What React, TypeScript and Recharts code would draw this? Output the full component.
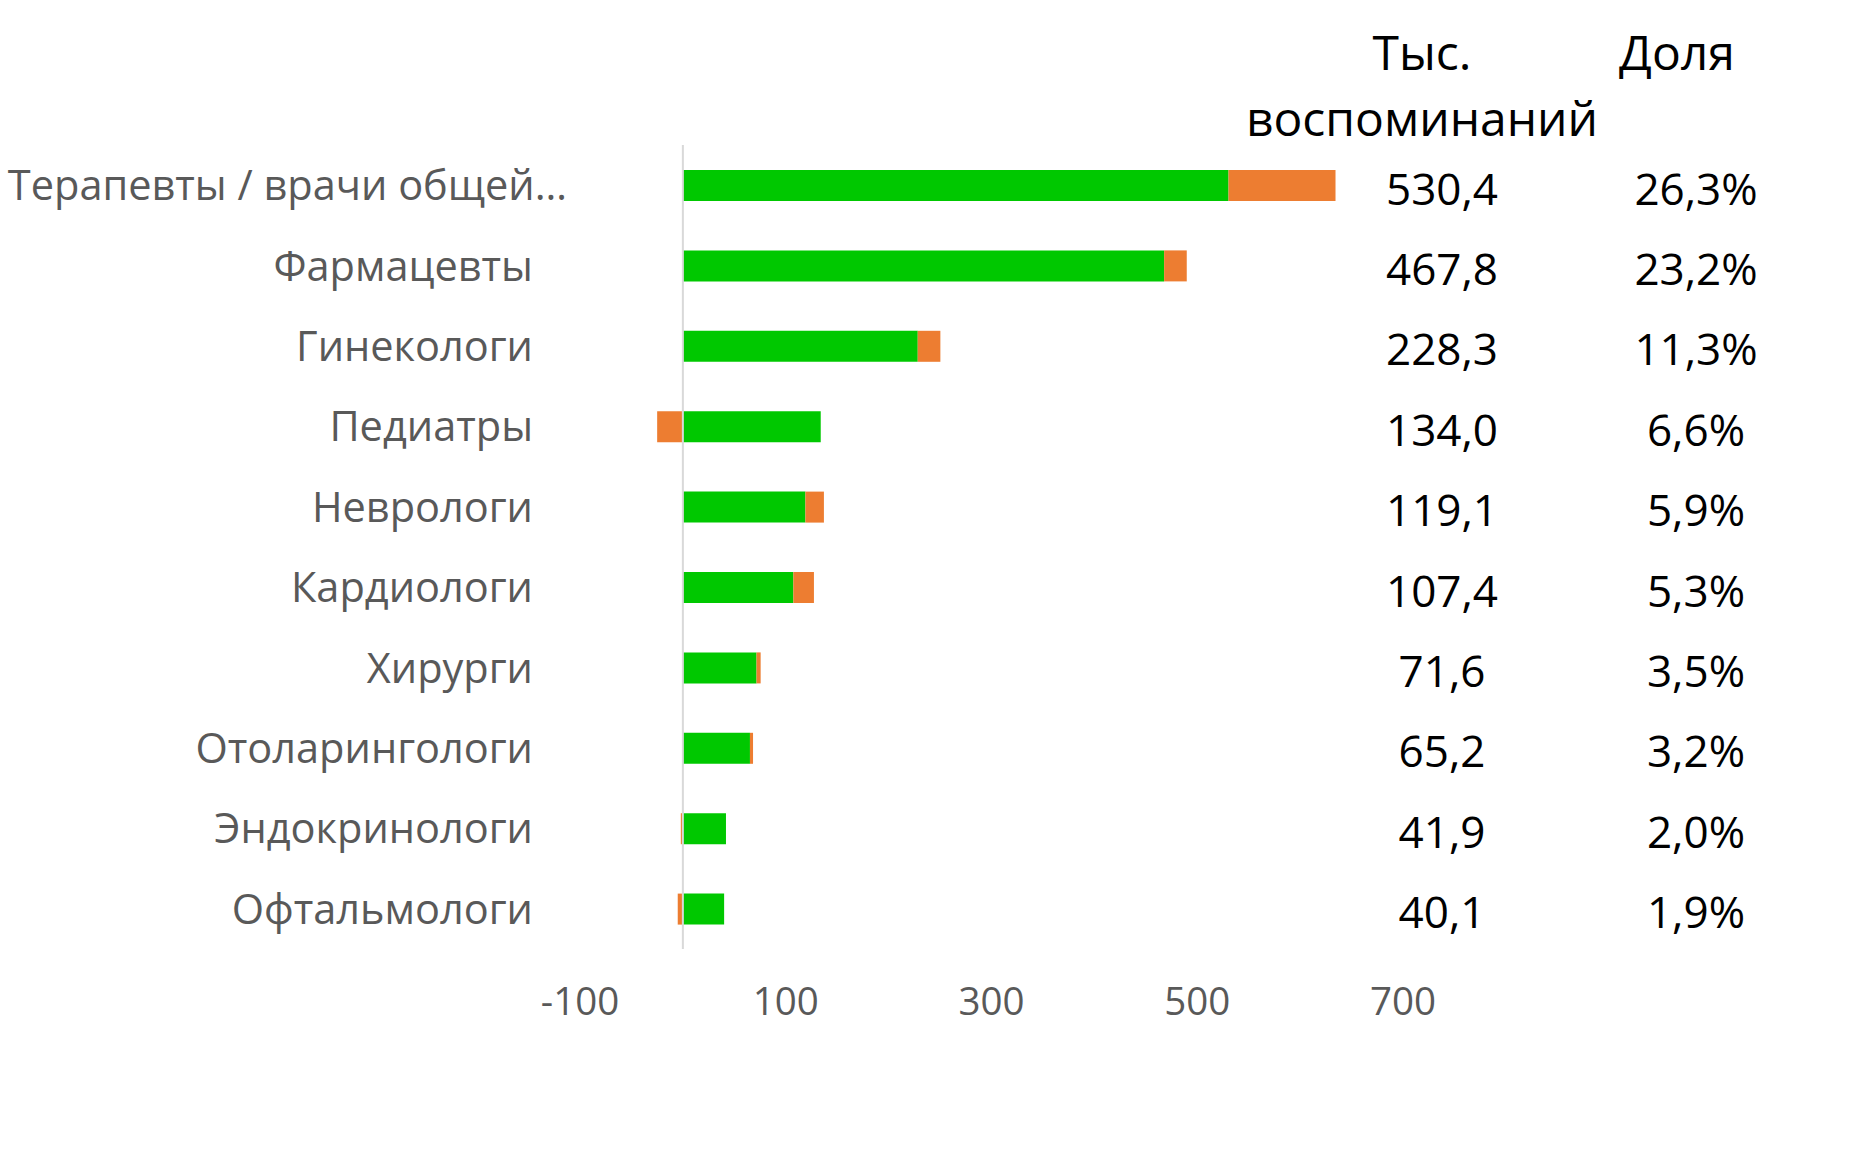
import React from 'react';
import { BarChart, Bar, XAxis, YAxis, ReferenceLine, LabelList } from 'recharts';

const categories = [
  'Терапевты / врачи общей…',
  'Фармацевты',
  'Гинекологи',
  'Педиатры',
  'Неврологи',
  'Кардиологи',
  'Хирурги',
  'Отоларингологи',
  'Эндокринологи',
  'Офтальмологи',
];

// thousand mentions (green) and change (orange)
const mentions = [530.4, 467.8, 228.3, 134.0, 119.1, 107.4, 71.6, 65.2, 41.9, 40.1];
const change = [104, 22, 22, -25, 18, 20, 4, 3, -2, -5];
const shares = [26.3, 23.2, 11.3, 6.6, 5.9, 5.3, 3.5, 3.2, 2.0, 1.9];

const xTicks = [-100, 100, 300, 500, 700];

const data = categories.map((name, i) => ({
  name,
  mentions: mentions[i],
  change: change[i],
  share: shares[i],
}));

const FONT = '"Open Sans", sans-serif';
const GRAY = '#595959';

const fmt = (v: number) => v.toFixed(1).replace('.', ',');

const CategoryTick = (props: any) => {
  const { x, y, payload } = props;
  const label: string = payload.value;
  const long = label.endsWith('…');
  return (
    <text
      x={x - (long ? 13 : 47)}
      y={y + 15}
      textAnchor="end"
      fill={GRAY}
      fontSize={41.5}
      fontFamily={FONT}
    >
      {label}
    </text>
  );
};

const ValueTick = (props: any) => {
  const { x, y, payload } = props;
  return (
    <text x={x} y={y + 66} textAnchor="middle" fill={GRAY} fontSize={38.5} fontFamily={FONT}>
      {payload.value}
    </text>
  );
};

const renderMentions = (props: any) => {
  const { y, height, value } = props;
  return (
    <text x={1442} y={y + height / 2 + 19} textAnchor="middle" fill="#000" fontSize={44} fontFamily={FONT}>
      {fmt(value)}
    </text>
  );
};

const renderShare = (props: any) => {
  const { y, height, value } = props;
  return (
    <text x={1696} y={y + height / 2 + 19} textAnchor="middle" fill="#000" fontSize={44} fontFamily={FONT}>
      {fmt(value)}%
    </text>
  );
};

const headerStyle: React.CSSProperties = {
  position: 'absolute',
  fontFamily: FONT,
  fontSize: 48,
  color: '#000',
  lineHeight: '1',
  transform: 'translate(-50%, -50%)',
  whiteSpace: 'nowrap',
};

export default function App() {
  return (
    <div style={{ position: 'absolute', left: 0, top: 0, width: 1867, height: 1162, background: '#fff' }}>
      <BarChart
        width={1867}
        height={1162}
        data={data}
        layout="vertical"
        stackOffset="sign"
        margin={{ top: 145, right: 464, bottom: 133, left: 0 }}
        barSize={31}
      >
        <XAxis
          type="number"
          domain={[-100, 700]}
          ticks={xTicks}
          axisLine={false}
          tickLine={false}
          tickSize={0}
          tickMargin={0}
          height={80}
          tick={<ValueTick />}
          interval={0}
        />
        <YAxis
          type="category"
          dataKey="name"
          width={580}
          axisLine={false}
          tickLine={false}
          tickSize={0}
          tickMargin={0}
          tick={<CategoryTick />}
          interval={0}
        />
        <Bar dataKey="mentions" stackId="a" fill="#00C800" isAnimationActive={false}>
          <LabelList dataKey="mentions" content={renderMentions} />
          <LabelList dataKey="share" content={renderShare} />
        </Bar>
        <Bar dataKey="change" stackId="a" fill="#ED7D31" isAnimationActive={false} />
        <ReferenceLine x={0} stroke="#D9D9D9" strokeWidth={2} />
      </BarChart>
      <div style={{ ...headerStyle, left: 1422, top: 52 }}>Тыс.</div>
      <div style={{ ...headerStyle, left: 1422, top: 118 }}>воспоминаний</div>
      <div style={{ ...headerStyle, left: 1677, top: 52 }}>Доля</div>
    </div>
  );
}
